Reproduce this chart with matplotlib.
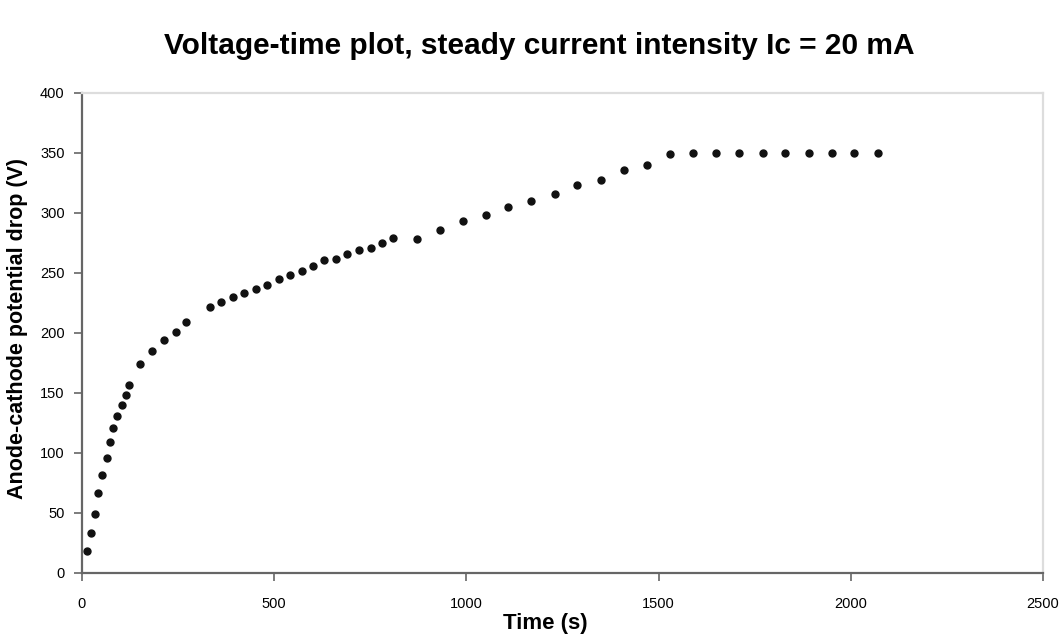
import matplotlib.pyplot as plt

# data
time_s = [12, 23, 33, 43, 53, 64, 73, 82, 92, 103, 114, 122,
          152, 183, 214, 244, 271,
          332, 362, 392, 422, 452, 481, 512, 542, 572, 601, 630, 660, 690, 720, 751, 780, 810,
          871, 931, 990, 1051, 1108, 1169, 1230, 1289, 1350, 1410, 1469,
          1530, 1590, 1649, 1710, 1771, 1829, 1890, 1950, 2009, 2070]
voltage_v = [18.6, 33, 49, 67, 82, 95.5, 109, 121, 131, 140, 148.6, 157,
             174, 185, 194, 201, 209,
             222, 226, 230, 233, 237, 240, 245, 248, 252, 256, 260.5, 262, 266, 269, 271, 275, 279,
             278, 286, 293, 298, 305, 310, 316, 323, 327.5, 336, 340,
             349, 350, 350, 350, 350, 350, 350, 350, 350, 350]
x_ticks = [0, 500, 1000, 1500, 2000, 2500]
y_ticks = [0, 50, 100, 150, 200, 250, 300, 350, 400]

plt.rcParams["font.family"] = ["Liberation Sans", "DejaVu Sans"]

fig = plt.figure(figsize=(10.63, 6.39), dpi=100)
ax = fig.add_axes([0.0771, 0.1033, 0.9041, 0.7512])

ax.plot(time_s, voltage_v, linestyle="none", marker="o", markersize=5,
        color="#111111")

ax.set_xlim(0, 2500)
ax.set_ylim(0, 400)
ax.set_xticks(x_ticks)
ax.set_yticks(y_ticks)
ax.tick_params(direction="out", length=6, width=1.2, color="#666666",
               labelsize=10.5)
ax.tick_params(axis="x", pad=11)
ax.tick_params(axis="y", pad=6.5)

for side in ["left", "bottom"]:
    ax.spines[side].set_color("#666666")
    ax.spines[side].set_linewidth(1.6)
for side in ["top", "right"]:
    ax.spines[side].set_color("#dddddd")
    ax.spines[side].set_linewidth(1.6)

fig.text(545 / 1063, 0.024, "Time (s)", ha="center", va="center",
         fontsize=16, fontweight="bold")
fig.text(17.5 / 1063, 1 - 328.5 / 639, "Anode-cathode potential drop (V)",
         rotation=90, ha="center", va="center", fontsize=15.5, fontweight="bold")

fig.text(539 / 1063, 0.928, "Voltage-time plot, steady current intensity Ic = 20 mA",
         ha="center", va="center", fontsize=21.5, fontweight="bold")

fig.savefig("out.png", dpi=100)
